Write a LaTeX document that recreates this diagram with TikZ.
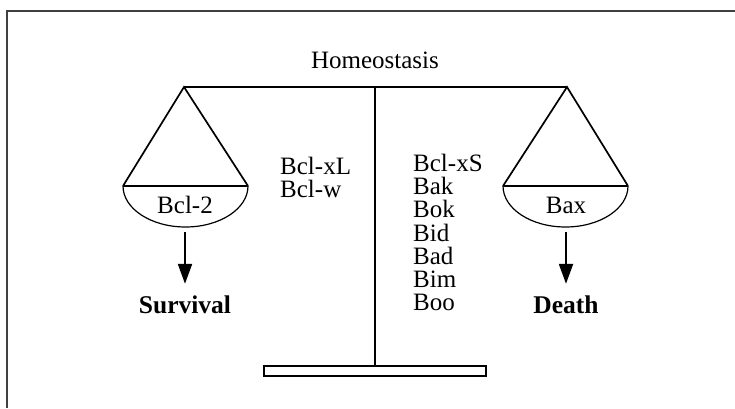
\documentclass[tikz,border=0pt]{standalone}
\usepackage{fontspec}
\setmainfont{Liberation Serif}
\usetikzlibrary{arrows.meta}

\begin{document}
\begin{tikzpicture}[x=1pt,y=1pt,
  lbl/.style={font=\fontsize{25}{25}\selectfont, inner sep=0pt},
  outcome/.style={font=\fontsize{25.5}{25.5}\selectfont\bfseries, inner sep=0pt},
  pan/.style={line width=1.7pt},
  fall/.style={line width=2.2pt, -{Triangle[length=20pt,width=14pt]}}]
\useasboundingbox (0,0) rectangle (735,408);
% frame
\draw[line width=1.3pt, black!75] (7,0) -- (7,397) -- (735,397);
% A) beam, post and foot
\node[lbl] (homeo) at (375,348) {Homeostasis};
\draw[line width=2pt] (184,321) -- (567,321);
\draw[line width=2pt] (375,321) -- (375,42);
\draw[line width=2.4pt] (264,32) rectangle (486,42);
% B) left pan
\draw[pan] (123,222) -- (184,321) -- (248,222);
\draw[pan] (123,222) -- (248,222);
\draw[line width=1.2pt] (123,222) arc[start angle=180, end angle=360, x radius=62.5, y radius=41];
\node[lbl] (bcl2) at (185,203) {Bcl-2};
\coordinate (lfoot) at (185,176);
\node[outcome] (surv) at (185,103) {Survival};
\draw[fall, shorten >=12pt] (lfoot) -- (surv);
% C) right pan
\draw[pan] (503,222) -- (567,321) -- (628,222);
\draw[pan] (503,222) -- (628,222);
\draw[line width=1.2pt] (503,222) arc[start angle=180, end angle=360, x radius=62.5, y radius=41];
\node[lbl] (bax) at (566,203) {Bax};
\coordinate (rfoot) at (566,176);
\node[outcome] (death) at (566,103) {Death};
\draw[fall, shorten >=12pt] (rfoot) -- (death);
% D) members
\node[lbl, anchor=west] (bclxl) at (280,242) {Bcl-xL};
\node[lbl, anchor=west] (bclw) at (280,218.8) {Bcl-w};
\foreach \name [count=\i] in {Bcl-xS,Bak,Bok,Bid,Bad,Bim,Boo}
  \node[lbl, anchor=west] (pro\i) at (413,{245-23.2*(\i-1)}) {\name};
\end{tikzpicture}
\end{document}
